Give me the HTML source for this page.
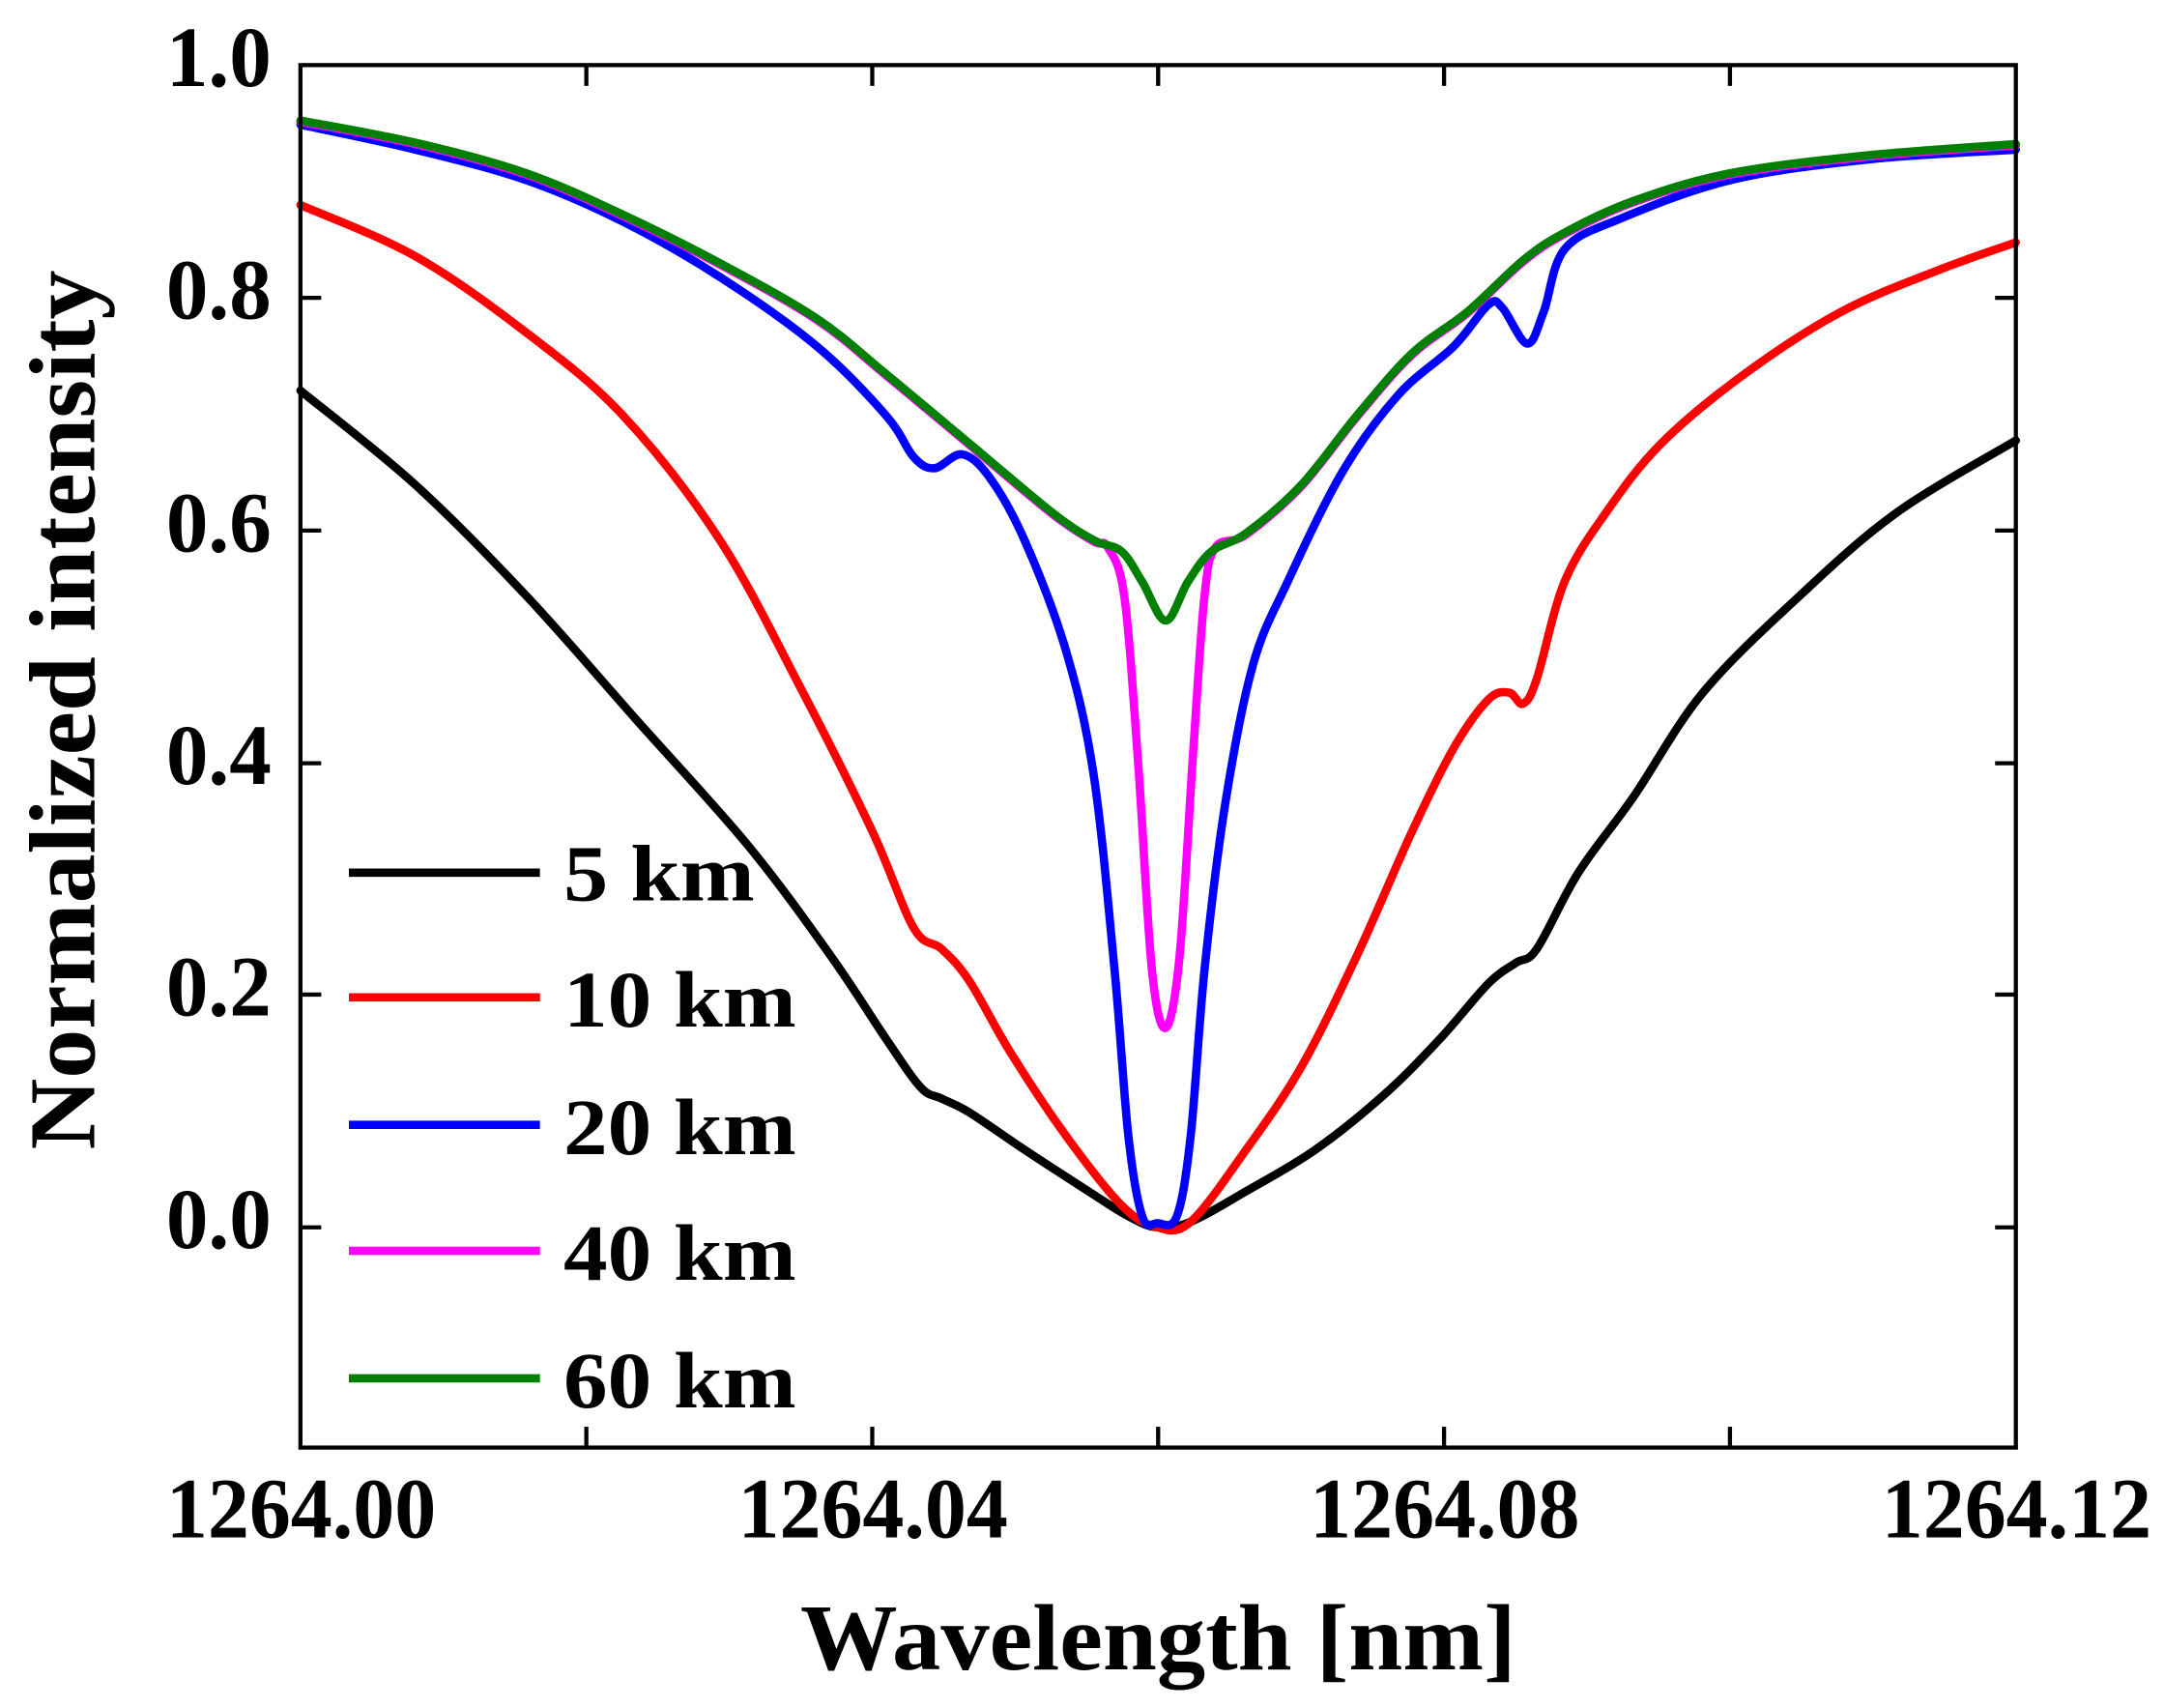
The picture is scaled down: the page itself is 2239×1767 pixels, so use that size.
<!DOCTYPE html>
<html><head><meta charset="utf-8"><style>
html,body{margin:0;padding:0;background:#fff;}
svg{display:block;}
text{font-family:"Liberation Serif",serif;font-weight:bold;fill:#000;}
</style></head><body>
<svg id="s" width="2239" height="1767" viewBox="0 0 1563 1233" preserveAspectRatio="none" xmlns="http://www.w3.org/2000/svg">
<g id="curves" fill="none" stroke-width="6" stroke-linejoin="round" stroke-linecap="round"></g>
<rect x="217" y="47" width="1239" height="998" fill="none" stroke="#000" stroke-width="3"/>
<g stroke="#000" stroke-width="3">
<line x1="217" y1="215" x2="232" y2="215"/><line x1="217" y1="383" x2="232" y2="383"/><line x1="217" y1="551" x2="232" y2="551"/><line x1="217" y1="718" x2="232" y2="718"/><line x1="217" y1="886" x2="232" y2="886"/>
<line x1="1456" y1="215" x2="1441" y2="215"/><line x1="1456" y1="383" x2="1441" y2="383"/><line x1="1456" y1="551" x2="1441" y2="551"/><line x1="1456" y1="718" x2="1441" y2="718"/><line x1="1456" y1="886" x2="1441" y2="886"/>
<line x1="423.5" y1="1045" x2="423.5" y2="1030"/><line x1="630" y1="1045" x2="630" y2="1030"/><line x1="836.5" y1="1045" x2="836.5" y2="1030"/><line x1="1043" y1="1045" x2="1043" y2="1030"/><line x1="1249.5" y1="1045" x2="1249.5" y2="1030"/>
<line x1="423.5" y1="47" x2="423.5" y2="62"/><line x1="630" y1="47" x2="630" y2="62"/><line x1="836.5" y1="47" x2="836.5" y2="62"/><line x1="1043" y1="47" x2="1043" y2="62"/><line x1="1249.5" y1="47" x2="1249.5" y2="62"/>
</g>
<g font-size="62">
<text x="120" y="62" textLength="76" lengthAdjust="spacingAndGlyphs">1.0</text>
<text x="120" y="230" textLength="76" lengthAdjust="spacingAndGlyphs">0.8</text>
<text x="120" y="398" textLength="76" lengthAdjust="spacingAndGlyphs">0.6</text>
<text x="120" y="566" textLength="76" lengthAdjust="spacingAndGlyphs">0.4</text>
<text x="120" y="733" textLength="76" lengthAdjust="spacingAndGlyphs">0.2</text>
<text x="120" y="901" textLength="76" lengthAdjust="spacingAndGlyphs">0.0</text>
</g>
<g font-size="62">
<text x="120" y="1110" textLength="195" lengthAdjust="spacingAndGlyphs">1264.00</text>
<text x="533" y="1110" textLength="195" lengthAdjust="spacingAndGlyphs">1264.04</text>
<text x="946" y="1110" textLength="195" lengthAdjust="spacingAndGlyphs">1264.08</text>
<text x="1359" y="1110" textLength="195" lengthAdjust="spacingAndGlyphs">1264.12</text>
</g>
<text x="578" y="1205" font-size="68" textLength="517" lengthAdjust="spacingAndGlyphs">Wavelength [nm]</text>
<text transform="translate(68,830) rotate(-90)" font-size="68" textLength="635" lengthAdjust="spacingAndGlyphs">Normalized intensity</text>
<g stroke-width="6">
<line x1="252" y1="630" x2="390" y2="630" stroke="#000"/>
<line x1="252" y1="720" x2="390" y2="720" stroke="#f00"/>
<line x1="252" y1="812" x2="390" y2="812" stroke="#00f"/>
<line x1="252" y1="903" x2="390" y2="903" stroke="#f0f"/>
<line x1="252" y1="995" x2="390" y2="995" stroke="#007f00"/>
</g>
<g font-size="58">
<text x="407" y="650" textLength="138" lengthAdjust="spacingAndGlyphs">5 km</text>
<text x="407" y="741" textLength="168" lengthAdjust="spacingAndGlyphs">10 km</text>
<text x="407" y="833" textLength="168" lengthAdjust="spacingAndGlyphs">20 km</text>
<text x="407" y="924" textLength="168" lengthAdjust="spacingAndGlyphs">40 km</text>
<text x="407" y="1016" textLength="168" lengthAdjust="spacingAndGlyphs">60 km</text>
</g>
</svg>
<script>
function cr(p){var d="M"+p[0][0]+","+p[0][1];for(var i=0;i<p.length-1;i++){var p0=p[i-1]||p[i],p1=p[i],p2=p[i+1],p3=p[i+2]||p2;
d+=" C"+(p1[0]+(p2[0]-p0[0])/6)+","+(p1[1]+(p2[1]-p0[1])/6)+" "+(p2[0]-(p3[0]-p1[0])/6)+","+(p2[1]-(p3[1]-p1[1])/6)+" "+p2[0]+","+p2[1];}return d;}
var black=[[217,282],[300,350],[380,430],[460,520],[540,610],[600,690],[640,750],[665,785],[680,793],[700,803],[740,830],[780,856],[815,878],[836,886],[860,882],[900,860],[950,830],[1000,790],[1040,750],[1075,710],[1095,695],[1110,685],[1140,630],[1180,575],[1230,500],[1300,430],[1370,370],[1456,318]];
var red=[[217,148],[300,185],[380,240],[450,300],[520,390],[580,500],[630,600],[660,670],[680,685],[700,708],[730,760],[770,820],[810,870],[836,886],[860,882],[900,830],[940,770],[980,690],[1020,600],[1050,540],[1075,505],[1090,500],[1100,508],[1110,490],[1130,420],[1160,370],[1200,320],[1260,270],[1330,225],[1400,195],[1456,175]];
var blue=[[217,90],[300,108],[380,130],[450,160],[520,200],[590,250],[640,300],[660,330],[675,338],[695,328],[715,345],[740,390],[770,470],[790,560],[805,700],[815,820],[825,878],[836,883],[850,878],[860,820],[870,700],[885,580],[905,480],[930,420],[970,340],[1010,285],[1050,250],[1075,220],[1085,222],[1103,248],[1115,225],[1130,180],[1170,158],[1250,130],[1350,115],[1456,108]];
var mag=[[217,88],[300,104],[380,126],[450,156],[520,191],[590,231],[640,271],[700,321],[760,371],[790,391],[800,395],[812,430],[822,550],[832,700],[842,742],[852,690],[862,540],[870,430],[878,395],[900,386],[940,351],[980,301],[1020,256],[1060,226],[1100,189],[1130,169],[1180,146],[1250,126],[1350,113],[1456,105]];
var green=[[217,87],[300,103],[380,125],[450,155],[520,190],[590,230],[640,270],[700,320],[760,370],[790,390],[810,398],[825,420],[842,448],[858,420],[875,398],[900,385],[940,350],[980,300],[1020,255],[1060,225],[1100,188],[1130,168],[1180,145],[1250,125],[1350,112],[1456,104]];
var g=document.getElementById("curves"),s=[[black,"#000"],[red,"#f00"],[blue,"#00f"],[mag,"#f0f"],[green,"#007f00"]];
s.forEach(function(a){var e=document.createElementNS("http://www.w3.org/2000/svg","path");e.setAttribute("d",cr(a[0]));e.setAttribute("stroke",a[1]);g.appendChild(e);});
</script>
</body></html>
